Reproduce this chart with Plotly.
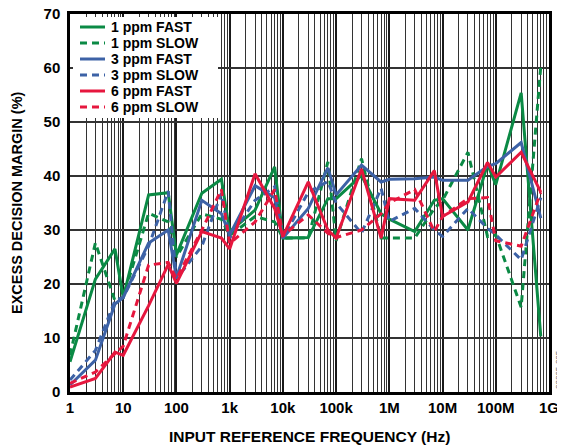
import plotly.graph_objects as go

# ---------------- data ----------------
freq = [1, 3, 7, 10, 30, 70, 100, 300, 700, 1e3, 3e3, 7e3, 1e4, 3e4, 7e4, 1e5, 3e5, 7e5,
        1e6, 3e6, 7e6, 1e7, 3e7, 7e7, 1e8, 3e8, 7e8]

ppm1_fast = [5.6, 20.9, 26.5, 17.5, 36.5, 36.9, 25.4, 36.8, 39.4, 29.7, 33.7, 41.7, 28.5, 28.6,
             35.8, 35.8, 40.1, 33.0, 32.0, 29.7, 35.5, 35.8, 30.0, 42.2, 38.4, 55.4, 10.3]
ppm1_slow = [6.8, 27.6, 16.9, 17.5, 33.1, 31.5, 25.0, 33.0, 32.0, 29.0, 32.5, 31.5, 28.5, 28.5,
             42.6, 28.0, 43.2, 28.5, 28.5, 28.5, 34.0, 35.5, 44.4, 28.8, 29.1, 15.7, 60.3]
ppm3_fast = [1.3, 5.9, 16.3, 17.5, 27.6, 30.0, 21.2, 35.5, 33.0, 29.1, 38.2, 36.0, 28.5, 34.0,
             41.5, 36.5, 42.0, 38.9, 39.4, 39.5, 39.8, 39.2, 39.2, 41.8, 42.3, 46.2, 32.2]
ppm3_slow = [2.2, 7.7, 16.9, 17.5, 27.0, 37.2, 21.0, 27.0, 36.8, 28.5, 35.5, 38.0, 28.5, 37.0,
             39.0, 35.0, 29.4, 37.7, 31.6, 34.0, 30.0, 28.8, 34.0, 30.3, 29.1, 24.5, 36.0]
ppm6_fast = [0.9, 2.5, 7.4, 6.8, 16.0, 23.6, 20.1, 29.7, 28.5, 26.5, 40.4, 34.0, 28.8, 38.9,
             30.0, 28.5, 41.3, 28.5, 35.8, 35.5, 41.0, 32.5, 35.2, 42.5, 39.8, 44.4, 37.0]
ppm6_slow = [1.6, 3.7, 7.1, 8.5, 23.5, 24.0, 21.0, 30.0, 37.5, 27.5, 31.5, 37.5, 29.0, 32.8,
             29.4, 28.6, 30.0, 33.0, 35.0, 37.5, 29.7, 32.5, 35.8, 36.0, 28.0, 27.0, 37.0]

tick_vals = [1, 10, 100, 1e3, 1e4, 1e5, 1e6, 1e7, 1e8, 1e9]
tick_text = ["1", "10", "100", "1k", "10k", "100k", "1M", "10M", "100M", "1G"]

series_names = ["1 ppm FAST", "1 ppm SLOW", "3 ppm FAST", "3 ppm SLOW", "6 ppm FAST", "6 ppm SLOW"]
series_values = [ppm1_fast, ppm1_slow, ppm3_fast, ppm3_slow, ppm6_fast, ppm6_slow]

x_title = "INPUT REFERENCE FREQUENCY (Hz)"
y_title = "EXCESS DECISION MARGIN (%)"
fig_id = "08865-005"

# ---------------- style ----------------
GREEN = "#0b8a45"
BLUE = "#3d62a6"
RED = "#e6173e"
colors = [GREEN, GREEN, BLUE, BLUE, RED, RED]
dashes = ["solid", "7px,5px", "solid", "7px,5px", "solid", "7px,5px"]

FONT = "Liberation Sans, Arial, sans-serif"
W, H = 557, 438
ML, MR, MT, MB = 62, 16, 6, 54
PW, PH = W - ML - MR, H - MT - MB


def px(x):
    return (x - ML) / PW


def py(y):
    return 1 - (y - MT) / PH


fig = go.Figure()
for name, vals, col, dash in zip(series_names, series_values, colors, dashes):
    fig.add_trace(go.Scatter(
        x=freq, y=vals, name=name, mode="lines", showlegend=False,
        line=dict(color=col, width=3, dash=dash),
    ))

fig.update_layout(
    width=W, height=H,
    margin=dict(l=ML, r=MR, t=MT, b=MB),
    paper_bgcolor="white", plot_bgcolor="white",
    font=dict(family=FONT, size=15, color="black"),
    showlegend=False,
)

fig.update_xaxes(
    type="log", range=[0, 9], automargin=False,
    tickvals=tick_vals, ticktext=tick_text, ticklabeloverflow="allow",
    tickfont=dict(family=FONT, size=15, color="black", weight="bold"),
    showgrid=True, gridcolor="#1a1a1a", gridwidth=2,
    minor=dict(dtick="D1", showgrid=True, gridcolor="#333333", gridwidth=1, ticks=""),
    showline=True, linecolor="black", linewidth=2.5, mirror=True,
    ticks="", zeroline=False,
)
fig.update_yaxes(
    range=[0, 70], dtick=10, automargin=False, ticklabeloverflow="allow",
    tickfont=dict(family=FONT, size=15, color="black", weight="bold"),
    showgrid=True, gridcolor="#333333", gridwidth=1.5,
    showline=True, linecolor="black", linewidth=2.5, mirror=True,
    ticks="", zeroline=False, ticklabelstandoff=4,
)

# legend box (custom, to match compact entry spacing)
shapes = [dict(type="rect", xref="paper", yref="paper", layer="above",
               x0=px(65), x1=px(210), y0=py(110), y1=py(9),
               fillcolor="white", line=dict(width=0))]
annotations = []
for i, (name, col, dash) in enumerate(zip(series_names, colors, dashes)):
    yc = 19 + 16.0 * i
    shapes.append(dict(type="line", xref="paper", yref="paper", layer="above",
                       x0=px(72), x1=px(97), y0=py(yc), y1=py(yc),
                       line=dict(color=col, width=3, dash=dash)))
    annotations.append(dict(text=name, xref="paper", yref="paper", x=px(102), y=py(yc),
                            xanchor="left", yanchor="middle", showarrow=False,
                            borderpad=0, valign="middle",
                            font=dict(family=FONT, size=14, color="black", weight="bold")))

annotations.append(dict(text=x_title, xref="paper", yref="paper", x=0.5, y=py(428),
                        xanchor="center", yanchor="middle", showarrow=False,
                        font=dict(family=FONT, size=15.5, color="black", weight="bold")))
annotations.append(dict(text=y_title, xref="paper", yref="paper", x=px(9), y=0.5,
                        xanchor="center", yanchor="middle", showarrow=False, textangle=-90,
                        borderpad=0,
                        font=dict(family=FONT, size=14.5, color="black", weight="bold")))
annotations.append(dict(text=fig_id, xref="paper", yref="paper", x=px(550.5), y=py(382),
                        xanchor="center", yanchor="bottom", showarrow=False, textangle=-90,
                        borderpad=0,
                        font=dict(family=FONT, size=8, color="#555555")))

fig.update_layout(shapes=shapes, annotations=annotations)

fig.write_html("out.html")
